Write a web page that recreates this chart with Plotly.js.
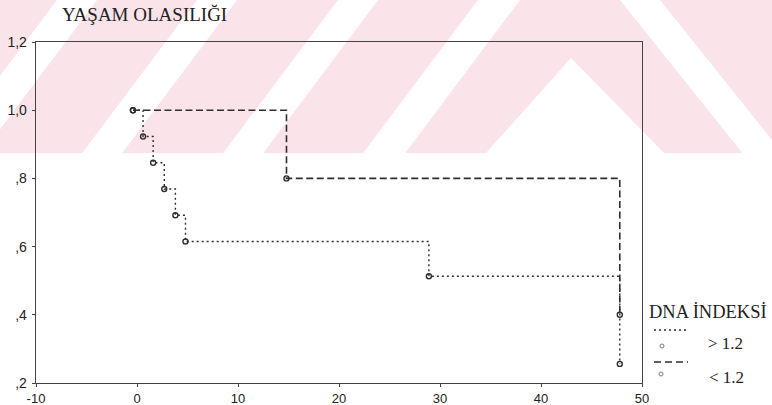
<!DOCTYPE html>
<html>
<head>
<meta charset="utf-8">
<script src="https://cdn.plot.ly/plotly-3.0.1.min.js"></script>
<style>
  html, body { margin: 0; padding: 0; background: #ffffff; }
  #chart { width: 772px; height: 405px; }
</style>
</head>
<body>
<div id="chart"></div>
<script>
// Kaplan-Meier survival estimates by DNA index group
const timeHigh = [-0.4, 0.6, 1.6, 2.7, 3.8, 4.8, 28.9, 47.8];
const survHigh = [1.0, 0.923, 0.846, 0.769, 0.692, 0.615, 0.513, 0.256];
const timeLow  = [-0.4, 14.8, 47.8];
const survLow  = [1.0, 0.8, 0.4];

const xTicks = [-10, 0, 10, 20, 30, 40, 50];
const yTicks = [0.2, 0.4, 0.6, 0.8, 1.0, 1.2];
const yTickText = [',2', ',4', ',6', ',8', '1,0', '1,2'];

const chartTitle = 'YAŞAM OLASILIĞI';
const legendTitle = 'DNA İNDEKSİ';
const groupNames = ['> 1.2', '< 1.2'];

// page geometry (pixels) and pixel -> paper helpers
const W = 772, H = 405;
const M = { l: 36, r: 130, t: 42, b: 22 };
const pw = W - M.l - M.r, ph = H - M.t - M.b;
const fx = px => (px - M.l) / pw;
const fy = py => (H - M.b - py) / ph;
const path = pts => 'M' + pts.map(p => fx(p[0]).toFixed(5) + ',' + fy(p[1]).toFixed(5)).join(' L') + ' Z';

const ink = '#2e2e2e';
const serif = 'Liberation Serif, Times New Roman, serif';
const sans = 'Liberation Sans, Arial, sans-serif';

// faint printed background band across the top of the page
const bandBottom = 153;
const pink = '#fbe4e9';
const slant = 0.75;      // horizontal run per pixel of height for the "/" stripes
const backSlant = 0.8;   // same for the "\" stripe
const shapes = [];
const fill = (pts, color) => shapes.push({ type: 'path', xref: 'paper', yref: 'paper', layer: 'below',
  line: { width: 0 }, fillcolor: color, path: path(pts) });
fill([[0, 0], [W, 0], [W, bandBottom], [0, bandBottom]], pink);
[[57, 97], [197, 237], [338, 378], [478, 520]].forEach(([a, b]) => {
  const d = slant * bandBottom;
  fill([[a, 0], [b, 0], [b - d, bandBottom], [a - d, bandBottom]], '#ffffff');
});
fill([[571, 58], [664, bandBottom], [486, bandBottom]], '#ffffff');
fill([[620, 0], [660, 0], [660 + backSlant * bandBottom, bandBottom], [620 + backSlant * bandBottom, bandBottom]], '#ffffff');

// legend samples
shapes.push({ type: 'line', xref: 'paper', yref: 'paper', x0: fx(654), x1: fx(686), y0: fy(330), y1: fy(330),
  line: { color: ink, width: 1.3, dash: '2px,3px' } });
shapes.push({ type: 'line', xref: 'paper', yref: 'paper', x0: fx(654), x1: fx(688), y0: fy(362), y1: fy(362),
  line: { color: ink, width: 1.4, dash: '7px,4px' } });
[[662, 346], [661, 374]].forEach(([cx, cy]) => {
  shapes.push({ type: 'circle', xref: 'paper', yref: 'paper', x0: fx(cx - 2), x1: fx(cx + 2), y0: fy(cy + 2), y1: fy(cy - 2),
    line: { color: '#777', width: 1 }, fillcolor: 'rgba(0,0,0,0)' });
});

const annotations = [
  { text: legendTitle, x: fx(647), y: fy(312), size: 18.5 },
  { text: groupNames[0], x: fx(706), y: fy(343), size: 17 },
  { text: groupNames[1], x: fx(707), y: fy(377), size: 17 }
].map(a => ({ xref: 'paper', yref: 'paper', showarrow: false, xanchor: 'left', yanchor: 'middle',
  text: a.text, x: a.x, y: a.y, font: { family: serif, size: a.size, color: '#222' } }));

const traces = [
  { x: timeHigh, y: survHigh, name: groupNames[0], type: 'scatter', mode: 'lines+markers',
    line: { shape: 'hv', color: ink, width: 1.4, dash: '2px,3px' },
    marker: { symbol: 'circle-open', size: 5, color: ink, line: { width: 1.4, color: ink } } },
  { x: timeLow, y: survLow, name: groupNames[1], type: 'scatter', mode: 'lines+markers',
    line: { shape: 'hv', color: ink, width: 1.6, dash: '7px,3.5px' },
    marker: { symbol: 'circle-open', size: 5, color: ink, line: { width: 1.4, color: ink } } }
];

const layout = {
  width: W, height: H,
  margin: { l: M.l, r: M.r, t: M.t, b: M.b, pad: 0 },
  paper_bgcolor: 'rgba(0,0,0,0)',
  plot_bgcolor: 'rgba(0,0,0,0)',
  showlegend: false,
  title: { text: chartTitle, xref: 'container', yref: 'container', x: 62 / W, xanchor: 'left',
    y: 1 - 14 / H, yanchor: 'middle', font: { family: serif, size: 19, color: '#222' } },
  xaxis: {
    range: [-10, 50], tickvals: xTicks, ticktext: xTicks.map(String),
    showgrid: false, zeroline: false, showline: true, mirror: true, linecolor: '#444', linewidth: 1.3,
    ticks: 'outside', ticklen: 3, tickcolor: '#444',
    tickfont: { family: sans, size: 13, color: '#222' }
  },
  yaxis: {
    range: [0.2, 1.2], tickvals: yTicks, ticktext: yTickText,
    showgrid: false, zeroline: false, showline: true, mirror: true, linecolor: '#444', linewidth: 1.3,
    ticks: 'outside', ticklen: 3, tickcolor: '#444', ticklabelstandoff: 2,
    tickfont: { family: sans, size: 14, color: '#222' }
  },
  shapes: shapes,
  annotations: annotations
};

Plotly.newPlot('chart', traces, layout, { staticPlot: true, displayModeBar: false });
</script>
</body>
</html>
